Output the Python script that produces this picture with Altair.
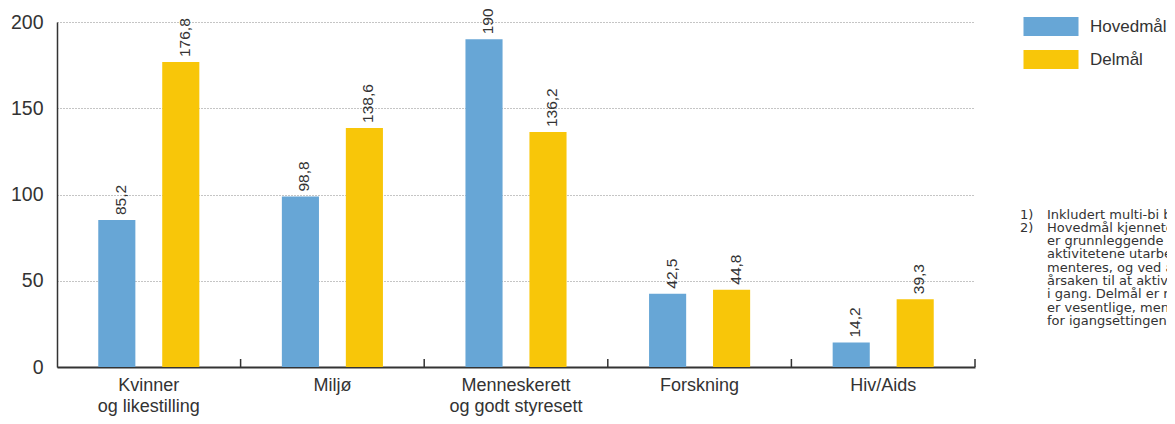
import altair as alt
import pandas as pd

# ---- data -------------------------------------------------------------
categories = ["Kvinner|og likestilling", "Miljø", "Menneskerett|og godt styresett",
              "Forskning", "Hiv/Aids"]
series = ["Hovedmål", "Delmål"]
hovedmal = [85.2, 98.8, 190, 42.5, 14.2]
delmal = [176.8, 138.6, 136.2, 44.8, 39.3]
colors = ["#67a6d6", "#f8c609"]
y_ticks = [0, 50, 100, 150, 200]
footnote_numbers = ["1)", "2)"]
footnote_lines = [
    "Inkludert multi-bi bistand.",
    "Hovedmål kjennetegnes ved at de",
    "er grunnleggende for at",
    "aktivitetene utarbeides og imple-",
    "menteres, og ved at de er",
    "årsaken til at aktiviteten settes",
    "i gang. Delmål er mål som",
    "er vesentlige, men ikke avgjørende",
    "for igangsettingen.",
]

rows = []
for c, h, d in zip(categories, hovedmal, delmal):
    rows.append({"kategori": c, "serie": series[0], "verdi": h})
    rows.append({"kategori": c, "serie": series[1], "verdi": d})
df = pd.DataFrame(rows)
df["etikett"] = df["verdi"].map(lambda v: f"{v:g}".replace(".", ","))

ticks_df = pd.DataFrame({"kategori": categories})
legend_df = pd.DataFrame({"serie": series})
notes_df = pd.DataFrame({"nr": ["\n".join(footnote_numbers)],
                         "tekst": ["\n".join(footnote_lines)]})

FONT = "Liberation Sans"
NOTE_FONT = "DejaVu Sans"
TXT = "#333333"
W, H = 918, 345

color_enc = alt.Color("serie:N", sort=series,
                      scale=alt.Scale(domain=series, range=colors), legend=None)

x_enc = alt.X(
    "kategori:N", sort=categories,
    scale=alt.Scale(paddingInner=0, paddingOuter=0),
    axis=alt.Axis(title=None, labelExpr="split(datum.value, '|')", labelAngle=0,
                  ticks=False, labelPadding=9, labelFontSize=18,
                  labelLineHeight=21, labelColor=TXT, labelFont=FONT,
                  domainColor=TXT, domainWidth=2),
)
xoff_enc = alt.XOffset("serie:N", sort=series,
                       scale=alt.Scale(domain=series, paddingInner=0.42, paddingOuter=0.645))
y_enc = alt.Y(
    "verdi:Q",
    scale=alt.Scale(domain=[0, 200], nice=False),
    axis=alt.Axis(title=None, values=y_ticks, ticks=False, labelPadding=14,
                  labelFontSize=19.5, labelColor=TXT, labelFont=FONT,
                  grid=True, gridDash=[1, 2], gridColor="#8a8a8a", gridWidth=1,
                  domainColor=TXT, domainWidth=1.5),
)

bars = alt.Chart(df).mark_bar().encode(
    x=x_enc, xOffset=xoff_enc, y=y_enc, color=color_enc,
)

labels = alt.Chart(df).mark_text(
    angle=270, align="left", baseline="middle", dx=5, dy=4,
    fontSize=15.5, color=TXT, font=FONT,
).encode(x=alt.X("kategori:N", sort=categories), xOffset=alt.XOffset("serie:N", sort=series),
         y="verdi:Q", text="etikett:N")

ticks = alt.Chart(ticks_df).mark_rule(color=TXT, strokeWidth=1.5).encode(
    x=alt.X("kategori:N", sort=categories, bandPosition=1),
    y=alt.value(H - 8), y2=alt.value(H),
)

main = alt.layer(bars, labels, ticks)

# legend drawn as marks (wide rectangular swatches)
leg_y = alt.Y("serie:N", sort=series,
              scale=alt.Scale(type="point", domain=series, range=[4.5, 37.5], padding=0),
              axis=None)
leg_swatch = alt.Chart(legend_df).mark_point(
    shape="M-1,-0.345H1V0.345H-1Z", size=3025, filled=True, opacity=1, strokeWidth=0,
).encode(x=alt.value(994), y=leg_y, color=color_enc)
leg_text = alt.Chart(legend_df).mark_text(
    align="left", baseline="middle", fontSize=17, color=TXT, font=FONT,
).encode(x=alt.value(1033), y=leg_y, text="serie:N")
legend = alt.layer(leg_swatch, leg_text)

note_nr = alt.Chart(notes_df).mark_text(
    align="left", baseline="top", fontSize=13, lineHeight=13.3,
    lineBreak="\n", color=TXT, font=NOTE_FONT,
).encode(x=alt.value(963), y=alt.value(186.5), text="nr:N")

note_txt = alt.Chart(notes_df).mark_text(
    align="left", baseline="top", fontSize=13, lineHeight=13.3,
    lineBreak="\n", color=TXT, font=NOTE_FONT,
).encode(x=alt.value(990), y=alt.value(186.5), text="tekst:N")

chart = alt.layer(main, legend, note_nr, note_txt).resolve_scale(y="independent").properties(
    width=W, height=H,
    autosize=alt.AutoSizeParams(type="none"),
    padding={"left": 49, "top": 14, "right": 192, "bottom": 49},
).configure_view(stroke=None)

chart.save("out.html", embed_options={"renderer": "svg", "actions": False})
